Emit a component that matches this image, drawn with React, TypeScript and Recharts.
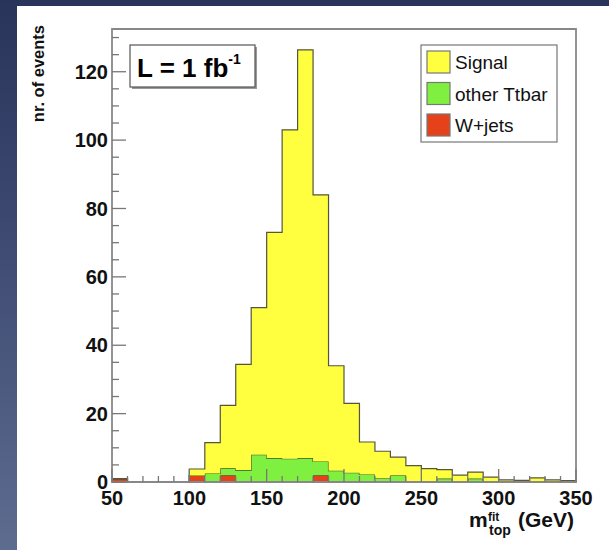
import React from 'react';
import { ComposedChart, Area, XAxis, YAxis, ReferenceArea } from 'recharts';

// Bin lower edges (GeV), 10 GeV bins from 50 to 350
const binEdges = [50, 60, 70, 80, 90, 100, 110, 120, 130, 140, 150, 160, 170, 180, 190, 200, 210, 220, 230, 240, 250, 260, 270, 280, 290, 300, 310, 320, 330, 340];
const wJets = [1.0, 0, 0, 0, 0, 1.9, 0, 2.0, 0, 0, 0, 0, 0, 2.0, 0, 0, 0, 0, 0, 0, 0, 0, 0, 0, 0, 0, 0, 0, 0, 0];
const otherTtbar = [0, 0, 0, 0, 0, 0, 2.5, 2.0, 3.5, 8.0, 7.0, 6.8, 7.0, 4.0, 3.3, 2.7, 2.2, 1.1, 2.0, 0.3, 0.2, 1.0, 0.2, 1.0, 0.3, 0.1, 0.1, 0.1, 0.1, 0.1];
const signal = [0, 0, 0, 0, 0, 1.9, 9.0, 18.4, 30.9, 43.0, 66.0, 96.2, 119.4, 78.0, 30.7, 20.3, 9.5, 7.9, 5.3, 4.5, 3.7, 2.6, 1.8, 1.9, 1.1, 0.5, 0.4, 1.1, 0.5, 0.3];
const xUpperEdge = 350;

const xTicks = [50, 60, 70, 80, 90, 100, 110, 120, 130, 140, 150, 160, 170, 180, 190, 200, 210, 220, 230, 240, 250, 260, 270, 280, 290, 300, 310, 320, 330, 340, 350];
const yTicks = [0, 5, 10, 15, 20, 25, 30, 35, 40, 45, 50, 55, 60, 65, 70, 75, 80, 85, 90, 95, 100, 105, 110, 115, 120, 125, 130];
const yMax = 132.5;

const seriesNames = ['Signal', 'other Ttbar', 'W+jets'];
const COLORS = { signal: '#ffff40', other: '#80f040', wjets: '#e5421c' };

const data = binEdges.map((x, i) => ({ x, wjets: wJets[i], other: otherTtbar[i], signal: signal[i] }));
data.push({ x: xUpperEdge, wjets: wJets[wJets.length - 1], other: otherTtbar[otherTtbar.length - 1], signal: signal[signal.length - 1] });

const FONT = '"Liberation Sans", Arial, Helvetica, sans-serif';
const TICK_COLOR = '#777';

const YTick = (props: any) => {
  const { x, y, payload } = props;
  const v = payload.value;
  const major = v % 20 === 0;
  const ax = x + 4;
  return (
    <g>
      <line x1={ax} x2={ax + (major ? 14 : 7)} y1={y} y2={y} stroke={TICK_COLOR} strokeWidth={1.3} />
      {major && (
        <text x={x} y={y} dy="0.36em" textAnchor="end" fontFamily={FONT} fontWeight="bold" fontSize={20} fill="#111">
          {v}
        </text>
      )}
    </g>
  );
};

const XTick = (props: any) => {
  const { x, y, payload } = props;
  const v = payload.value;
  const major = v % 50 === 0;
  return (
    <g>
      <line x1={x} x2={x} y1={y} y2={y - (major ? 13 : 6)} stroke={TICK_COLOR} strokeWidth={1.3} />
      {major && (
        <text x={x} y={y + 23} textAnchor="middle" fontFamily={FONT} fontWeight="bold" fontSize={20} fill="#111">
          {v}
        </text>
      )}
    </g>
  );
};

export default function App() {
  return (
    <div
      style={{
        position: 'fixed',
        left: 0,
        top: 0,
        width: 609,
        height: 550,
        overflow: 'hidden',
        background: 'linear-gradient(to bottom, #29345a 0%, #3c4870 40%, #5e6c90 100%)',
      }}
    >
      <div style={{ position: 'absolute', left: 17, top: 6, width: 592, height: 544, background: '#ffffff' }} />
      <div style={{ position: 'absolute', left: 0, top: 0 }}>
        <ComposedChart width={609} height={550} data={data} margin={{ top: 29, right: 33, bottom: 38, left: 52 }}>
          <XAxis
            dataKey="x"
            type="number"
            domain={[50, 350]}
            ticks={xTicks}
            interval={0}
            height={30}
            axisLine={false}
            tickLine={false}
            tickSize={0}
            tickMargin={0}
            tick={<XTick />}
            allowDataOverflow
          />
          <YAxis
            type="number"
            domain={[0, yMax]}
            ticks={yTicks}
            interval={0}
            width={60}
            axisLine={false}
            tickLine={false}
            tickSize={0}
            tickMargin={4}
            tick={<YTick />}
            allowDataOverflow
          />
          <Area
            type="stepAfter"
            dataKey="wjets"
            stackId="h"
            fill={COLORS.wjets}
            fillOpacity={1}
            stroke="#4a3020"
            strokeWidth={1.2}
            dot={false}
            activeDot={false}
            isAnimationActive={false}
          />
          <Area
            type="stepAfter"
            dataKey="other"
            stackId="h"
            fill={COLORS.other}
            fillOpacity={1}
            stroke="#3a5a2a"
            strokeWidth={1.2}
            dot={false}
            activeDot={false}
            isAnimationActive={false}
          />
          <Area
            type="stepAfter"
            dataKey="signal"
            stackId="h"
            fill={COLORS.signal}
            fillOpacity={1}
            stroke="#55553a"
            strokeWidth={1.2}
            dot={false}
            activeDot={false}
            isAnimationActive={false}
          />
          <ReferenceArea x1={50} x2={350} y1={0} y2={yMax} fill="none" fillOpacity={0} stroke="#888" strokeWidth={1.8} />
        </ComposedChart>
      </div>
      <svg width={609} height={550} style={{ position: 'absolute', left: 0, top: 0, pointerEvents: 'none' }}>
        {/* Y axis title */}
        <text
          x={44}
          y={25}
          transform="rotate(-90 44 25)"
          textAnchor="end"
          fontFamily={FONT}
          fontWeight="bold"
          fontSize={16.5}
          fill="#111"
        >
          nr. of events
        </text>
        {/* X axis title */}
        <text x={469} y={527} fontFamily={FONT} fontWeight="bold" fontSize={21} fill="#111">m</text>
        <text x={488} y={521} fontFamily={FONT} fontWeight="bold" fontSize={12} fill="#111">fit</text>
        <text x={489} y={535} fontFamily={FONT} fontWeight="bold" fontSize={14} fill="#111">top</text>
        <text x={518} y={527} fontFamily={FONT} fontWeight="bold" fontSize={21} fill="#111">(GeV)</text>
        {/* Luminosity box */}
        <rect x={132} y={47} width={125} height={42} fill="#999" />
        <rect x={130} y={45} width={125} height={42} fill="#fff" stroke="#555" strokeWidth={1.2} />
        <text x={137} y={77} fontFamily={FONT} fontWeight="bold" fontSize={26} fill="#000">
          L = 1 fb
          <tspan dy={-13} fontSize={14}>-1</tspan>
        </text>
        {/* Legend */}
        <rect x={421} y={45} width={136} height={97} fill="#fff" stroke="#777" strokeWidth={1.2} />
        {[COLORS.signal, COLORS.other, COLORS.wjets].map((c, i) => (
          <g key={seriesNames[i]}>
            <rect x={427} y={51 + i * 31.5} width={23} height={22} fill={c} stroke="#777" strokeWidth={1.2} />
            <text x={455} y={51 + i * 31.5 + 18} fontFamily={FONT} fontSize={19} fill="#111">
              {seriesNames[i]}
            </text>
          </g>
        ))}
      </svg>
    </div>
  );
}
